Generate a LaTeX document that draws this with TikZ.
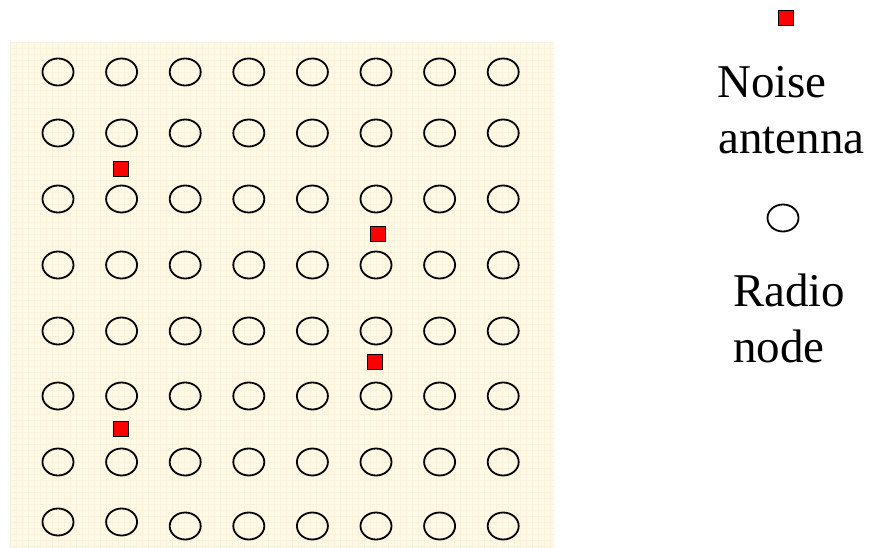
\documentclass[tikz,border=0pt]{standalone}
\usepackage{fontspec}
\setmainfont{Liberation Serif}
\usetikzlibrary{shapes.geometric}
\definecolor{bgcream}{RGB}{254,249,229}
\definecolor{gridline}{RGB}{249,242,218}
\definecolor{noisered}{RGB}{255,0,0}
\begin{document}
\begin{tikzpicture}[x=1pt,y=-1pt,
  radionode/.style={draw=black,line width=1.8pt,ellipse,minimum width=31pt,minimum height=27pt,inner sep=0pt},
  antenna/.style={draw=black,line width=1.6pt,fill=noisered,minimum size=15pt,inner sep=0pt},
  legendtext/.style={font=\fontsize{47}{56}\selectfont,inner sep=0pt,anchor=base west}]
\useasboundingbox (0,0) rectangle (869,548);
% background panel
\fill[bgcream] (10,42) rectangle (554,548);
\foreach \g in {0,6,...,540}{\draw[gridline,line width=0.3pt] (10+\g,42) -- (10+\g,548);}
\foreach \g in {0,6,...,504}{\draw[gridline,line width=0.3pt] (10,42+\g) -- (554,42+\g);}
% grid of radio nodes
\foreach \r/\y in {1/72,2/133,3/199,4/265,5/331,6/396,7/462}{
  \foreach \c in {1,...,8}{
    \node[radionode] (n\r\c) at ({58+63.6*(\c-1)},\y) {};
  }
}
\foreach \c/\y in {1/522,2/522,3/526,4/526,5/526,6/526,7/526,8/526}{
  \node[radionode] (n8\c) at ({58+63.6*(\c-1)},\y) {};
}
% noise antennas
\node[antenna] (a1) at (121,169) {};
\node[antenna] (a2) at (378,234) {};
\node[antenna] (a3) at (375,362) {};
\node[antenna] (a4) at (121,429) {};
% legend
\node[antenna] (la) at (786,18) {};
\node[legendtext] (t1) at (717,98) {Noise};
\node[legendtext] (t2) at (718,154) {antenna};
\node[radionode] (ln) at (783,218) {};
\node[legendtext] (t3) at (733,306) {Radio};
\node[legendtext] (t4) at (733,362) {node};
\end{tikzpicture}
\end{document}
